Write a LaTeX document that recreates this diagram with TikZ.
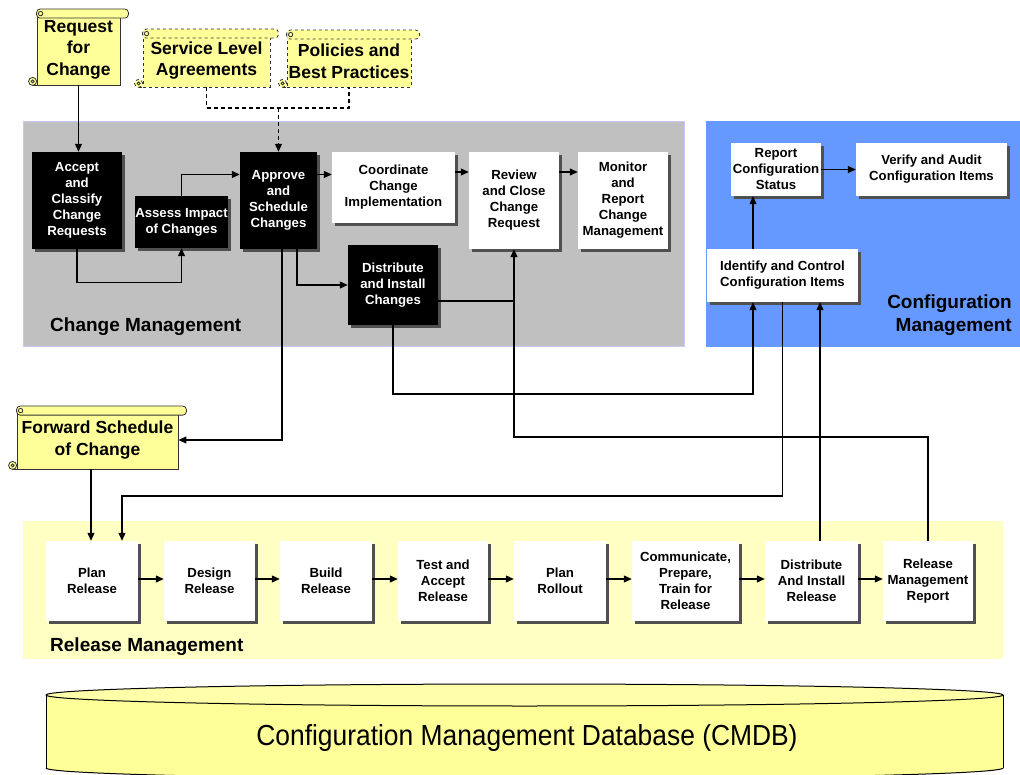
\documentclass[tikz,border=0pt]{standalone}
\usepackage{fontspec}
\setmainfont{Liberation Sans}
\usetikzlibrary{arrows.meta,shadows,calc}

\definecolor{cmgray}{HTML}{C0C0C0}
\definecolor{cmedge}{HTML}{C8C8F8}
\definecolor{cfgblue}{HTML}{6699FF}
\definecolor{relyellow}{HTML}{FFFFC4}
\definecolor{scrollyellow}{HTML}{FFFF99}
\definecolor{dbyellow}{HTML}{FFFF99}
\definecolor{dbtop}{HTML}{FFFFAA}
\definecolor{shadowgray}{HTML}{505050}

\pgfdeclarelayer{bg}
\pgfsetlayers{bg,main}

\tikzset{
  proc/.style={inner sep=0pt, align=center,
    font=\fontsize{13.2}{16}\selectfont\bfseries,
    drop shadow={shadow xshift=3pt, shadow yshift=-3pt, fill=shadowgray, opacity=1}},
  blackbox/.style={proc, fill=black, text=white},
  whitebox/.style={proc, fill=white, text=black},
  scrollbody/.style={draw=black!80, line width=0.8pt, fill=scrollyellow, inner sep=0pt,
    align=center, font=\fontsize{17.5}{21.5}\selectfont\bfseries},
  scrollline/.style={draw=black!80, line width=0.8pt},
  conn/.style={line width=1.1pt, draw=black},
  arr/.style={conn, -{Triangle[length=8pt,width=7pt]}},
  dsh/.style={conn, dash pattern=on 4pt off 3pt},
  lbl/.style={font=\fontsize{19}{23}\selectfont\bfseries, inner sep=0pt},
}

% rolled ends of a scroll-shaped node: #1 node, #2 line style
\newcommand\scrollparts[2]{%
  \fill[scrollyellow] ([shift={(-4,0)}]#1.south west) -- (#1.south west) -- ([shift={(0,-4)}]#1.south west) -- cycle;
  \draw[scrollline,#2] ([shift={(-4,0)}]#1.south west) -- (#1.south west);
  \draw[scrollline,#2,fill=scrollyellow] ([shift={(-4,-4)}]#1.south west) circle (4pt);
  \draw[scrollline,solid] ([shift={(-4,-4)}]#1.south west) circle (1.5pt);
  \draw[scrollline,#2,fill=scrollyellow,rounded corners=3.5pt]
     ([shift={(0,-4.5)}]#1.north west) rectangle ([shift={(8,4.5)}]#1.north east);
  \draw[scrollline,solid] ([shift={(4,0)}]#1.north west) circle (2.2pt);
}

\begin{document}
\begin{tikzpicture}[x=1pt,y=-1pt]
\useasboundingbox (0,0) rectangle (1020,775);

% ---------- process areas ----------
\begin{pgfonlayer}{bg}
  \fill[white] (0,0) rectangle (1020,775);
  \filldraw[fill=cmgray, draw=cmedge, line width=1pt] (23,122) rectangle (684,347);
  \fill[cfgblue] (706,121) rectangle (1020,347);
  \fill[relyellow] (23,521) rectangle (1003,659);
\end{pgfonlayer}

% ---------- documents ----------
\node[scrollbody, minimum width=83pt, minimum height=71pt] (rfc) at (78.5,49.5) {Request\\for\\Change};
\scrollparts{rfc}{solid}
\node[scrollbody, dashed, minimum width=127pt, minimum height=53pt] (sla) at (206.5,60.5) {Service Level\\Agreements};
\scrollparts{sla}{dashed}
\node[scrollbody, dashed, minimum width=124pt, minimum height=52pt] (pol) at (349,61) {Policies and\\Best Practices};
\scrollparts{pol}{dashed}
\node[scrollbody, minimum width=161pt, minimum height=58pt] (fsc) at (97.5,440) {Forward Schedule\\of Change};
\scrollparts{fsc}{solid}

% ---------- change management ----------
\node[blackbox, minimum width=90pt, minimum height=97pt] (acc) at (77,200.5) {Accept\\and\\Classify\\Change\\Requests};
\node[blackbox, minimum width=91pt, minimum height=52pt] (ass) at (181.5,222) {Assess Impact\\of Changes};
\node[blackbox, minimum width=77pt, minimum height=97pt] (app) at (278.5,200.5) {Approve\\and\\Schedule\\Changes};
\node[whitebox, minimum width=123pt, minimum height=71pt] (coo) at (393.5,187.5) {Coordinate\\Change\\Implementation};
\node[whitebox, minimum width=90pt, minimum height=97pt] (rev) at (514,200.5) {Review\\and Close\\Change\\Request};
\node[whitebox, minimum width=90pt, minimum height=97pt] (mon) at (623,200.5) {Monitor\\and\\Report\\Change\\Management};
\node[blackbox, minimum width=90pt, minimum height=80pt] (dis) at (393,285) {Distribute\\and Install\\Changes};
\node[lbl, anchor=west] (cmlabel) at (50,327) {Change Management};

% ---------- configuration management ----------
\node[whitebox, minimum width=90pt, minimum height=53pt] (rep) at (776,169.5) {Report\\Configuration\\Status};
\node[whitebox, minimum width=151pt, minimum height=53pt] (ver) at (931.5,169.5) {Verify and Audit\\Configuration Items};
\node[whitebox, minimum width=151pt, minimum height=53pt] (ide) at (782.5,275.5) {Identify and Control\\Configuration Items};
\node[lbl, anchor=east, align=right] (cfglabel) at (1012,315) {Configuration\\Management};

% ---------- release management ----------
\node[whitebox, minimum width=92pt, minimum height=80pt] (pr) at (92,581) {Plan\\Release};
\node[whitebox, minimum width=91pt, minimum height=80pt] (dr) at (209.5,581) {Design\\Release};
\node[whitebox, minimum width=92pt, minimum height=80pt] (br) at (326,581) {Build\\Release};
\node[whitebox, minimum width=90pt, minimum height=80pt] (tr) at (443,581) {Test and\\Accept\\Release};
\node[whitebox, minimum width=92pt, minimum height=80pt] (ro) at (560,581) {Plan\\Rollout};
\node[whitebox, minimum width=107pt, minimum height=80pt] (cp) at (685.5,581) {Communicate,\\Prepare,\\Train for\\Release};
\node[whitebox, minimum width=93pt, minimum height=80pt] (di) at (811.5,581) {Distribute\\And Install\\Release};
\node[whitebox, minimum width=90pt, minimum height=80pt] (rm) at (928,581) {Release\\Management\\Report};
\node[lbl, anchor=west] (rmlabel) at (50,647) {Release Management};

% ---------- CMDB cylinder ----------
\fill[dbyellow] (46,695) rectangle (1003,768);
\fill[dbyellow] (524.5,768) ellipse [x radius=478.5pt, y radius=11pt];
\begin{scope}
  \clip (0,768) rectangle (1020,800);
  \draw[line width=1pt] (524.5,768) ellipse [x radius=478.5pt, y radius=11pt];
\end{scope}
\draw[line width=1pt] (46,695) -- (46,768) (1003,695) -- (1003,768);
\filldraw[fill=dbtop, line width=1pt] (524.5,695) ellipse [x radius=478.5pt, y radius=11pt];
\node[font=\fontsize{29}{34}\selectfont, inner sep=0pt] (cmdb) at (527,738)
  {\scalebox{0.91}[1]{Configuration Management Database (CMDB)}};

% ---------- connectors: change management ----------
\coordinate (merge) at (278.5,108);
\draw[dsh] (sla.south) |- (merge) -| (pol.south);
\draw[arr, dash pattern=on 4pt off 3pt] (merge) -- (app.north);
\draw[arr] (rfc.south) -- (rfc.south |- acc.north);
\draw[arr] (acc.south) -- ++(0,33) -| (ass.south);
\draw[arr] (ass.north) |- ([yshift=26pt]app.west);
\coordinate (appR) at ([yshift=26pt]app.east);
\draw[arr] (appR) -- (appR -| coo.west);
\coordinate (cooR) at ([yshift=15.5pt]coo.east);
\draw[arr] (cooR) -- (cooR -| rev.west);
\coordinate (revR) at ([yshift=28.5pt]rev.east);
\draw[arr] (revR) -- (revR -| mon.west);
\coordinate (appB1) at ([xshift=3.5pt]app.south);
\coordinate (appB2) at ([xshift=18.5pt]app.south);
\draw[arr] (appB2) |- (dis.west);
\draw[arr] (appB1) |- (fsc.east);
\coordinate (disR) at ([yshift=-16pt]dis.east);
\draw[conn] (disR) -- (disR -| rev.south);
\draw[arr] (rm.north) |- (rev.south |- 0,437) -- (rev.south);

% ---------- connectors: configuration management ----------
\coordinate (ideA) at ([xshift=-29.5pt]ide.south);
\coordinate (ideB) at ([xshift=37.5pt]ide.south);
\draw[arr] (dis.south) -- (dis.south |- 0,394) -| (ideA);
\draw[arr] (di.north -| ideB) -- (ideB);
\draw[arr] (ideA |- ide.north) -- (ideA |- rep.south);
\draw[arr] (rep.east) -- (ver.west);

% ---------- connectors: release management ----------
\coordinate (prA) at ([xshift=-1pt]pr.north);
\coordinate (prB) at ([xshift=30pt]pr.north);
\draw[arr] (ide.south) |- (prB |- 0,496) -- (prB);
\draw[arr] (fsc.south -| prA) -- (prA);
\foreach \a/\b in {pr/dr, dr/br, br/tr, tr/ro, ro/cp, cp/di, di/rm}
  \draw[arr] ([yshift=2pt]\a.east) -- ([yshift=2pt]\b.west);
\end{tikzpicture}
\end{document}
